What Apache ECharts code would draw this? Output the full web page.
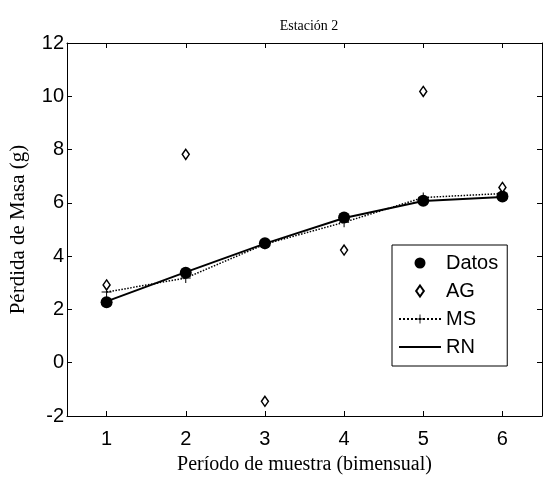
<!DOCTYPE html>
<html>
<head>
<meta charset="utf-8">
<script src="https://cdn.jsdelivr.net/npm/echarts@6/dist/echarts.min.js"></script>
<style>
  html, body { margin: 0; padding: 0; background: #fff; }
  #chart { width: 545px; height: 480px; }
</style>
</head>
<body>
<div id="chart"></div>
<script>
// datos
const periods = [1, 2, 3, 4, 5, 6];
const datos = [2.27, 3.38, 4.48, 5.45, 6.08, 6.24];
const ag = [2.92, 7.82, -1.45, 4.23, 10.18, 6.58];
const ms = [2.65, 3.18, 4.45, 5.27, 6.2, 6.35];
const rn = [2.3, 3.4, 4.47, 5.43, 6.07, 6.22];
const xTicks = [1, 2, 3, 4, 5, 6];

const pairs = arr => periods.map((p, i) => [p, arr[i]]);

const chart = echarts.init(document.getElementById('chart'));

const tickStyle = { show: true, inside: true, length: 5, lineStyle: { color: '#000' } };
const lineBlack = { show: true, onZero: false, lineStyle: { color: '#000', width: 1 } };
// cruz rellena para el marcador "+"
const plus = 'path://M-1,-10H1V10H-1Z M-10,-1H10V1H-10Z';
const diamond = 'path://M0,-5L3.5,0L0,5L-3.5,0Z';
const solidLine = 'path://M0,0H42V2H0Z';

const option = {
  backgroundColor: '#fff',
  animation: false,
  title: {
    text: 'Estación 2',
    left: 304,
    textAlign: 'center',
    top: 14,
    textStyle: { fontFamily: 'Liberation Serif', fontSize: 14, fontWeight: 'normal', color: '#000' }
  },
  grid: { left: 66, right: 3, top: 43, bottom: 48 },
  legend: {
    orient: 'vertical',
    left: 392,
    top: 245,
    padding: [8, 9, 9, 6],
    itemGap: 8,
    itemWidth: 42,
    itemHeight: 11,
    symbolKeepAspect: true,
    backgroundColor: '#fff',
    borderColor: '#000',
    borderWidth: 1,
    borderRadius: 0,
    textStyle: { fontFamily: 'Liberation Sans', fontSize: 20, color: '#000' },
    data: ['Datos', 'AG', 'MS', { name: 'RN', icon: solidLine }]
  },
  xAxis: [{
    type: 'value',
    min: 0.5,
    max: 6.5,
    axisLine: lineBlack,
    axisTick: Object.assign({ customValues: xTicks }, tickStyle),
    axisLabel: {
      customValues: xTicks,
      margin: 13,
      color: '#000',
      fontFamily: 'Liberation Sans',
      fontSize: 20
    },
    splitLine: { show: false },
    name: 'Período de muestra (bimensual)',
    nameLocation: 'middle',
    nameGap: 39,
    nameTextStyle: { fontFamily: 'Liberation Serif', fontSize: 20, color: '#000' }
  }, {
    type: 'value',
    position: 'top',
    min: 0.5,
    max: 6.5,
    axisLine: lineBlack,
    axisTick: Object.assign({ customValues: xTicks }, tickStyle),
    axisLabel: { show: false },
    splitLine: { show: false }
  }],
  yAxis: [{
    type: 'value',
    min: -2,
    max: 12,
    interval: 2,
    axisLine: lineBlack,
    axisTick: tickStyle,
    axisLabel: { margin: 3, color: '#000', fontFamily: 'Liberation Sans', fontSize: 20 },
    splitLine: { show: false },
    name: 'Pérdida de Masa (g)',
    nameLocation: 'middle',
    nameGap: 38,
    nameTextStyle: { fontFamily: 'Liberation Serif', fontSize: 21, color: '#000' }
  }, {
    type: 'value',
    position: 'right',
    min: -2,
    max: 12,
    interval: 2,
    axisLine: lineBlack,
    axisTick: tickStyle,
    axisLabel: { show: false },
    splitLine: { show: false }
  }],
  series: [
    {
      name: 'RN',
      type: 'line',
      data: pairs(rn),
      symbol: 'none',
      lineStyle: { color: '#000', width: 2 },
      itemStyle: { color: '#000' },
      z: 3
    },
    {
      name: 'MS',
      type: 'line',
      data: pairs(ms),
      symbol: plus,
      symbolSize: 10,
      lineStyle: { color: '#000', width: 1.5, type: 'dotted' },
      itemStyle: { color: '#000' },
      z: 2
    },
    {
      name: 'Datos',
      type: 'scatter',
      data: pairs(datos),
      symbol: 'circle',
      symbolSize: 12,
      itemStyle: { color: '#000', opacity: 1 },
      z: 4
    },
    {
      name: 'AG',
      type: 'scatter',
      data: pairs(ag),
      symbol: diamond,
      symbolSize: [7, 10],
      itemStyle: { color: '#fff', borderColor: '#000', borderWidth: 1.5, opacity: 1 },
      z: 4
    }
  ]
};

chart.setOption(option);
</script>
</body>
</html>
